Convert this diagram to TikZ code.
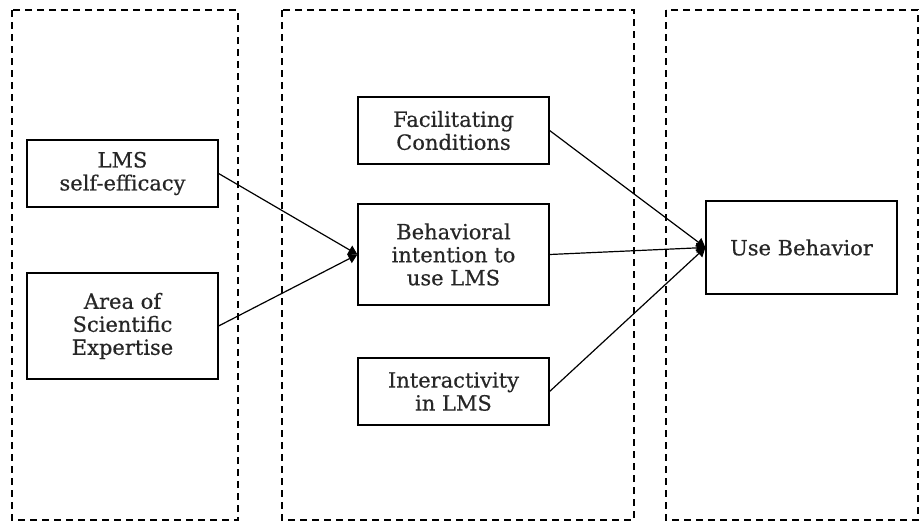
\documentclass[tikz,border=0pt]{standalone}
\usepackage{fontspec}
\setmainfont{DejaVu Serif}
\newfontfamily\boxfont[FakeBold=0.5]{DejaVu Serif}
\usetikzlibrary{arrows.meta}

\begin{document}
\begin{tikzpicture}[x=1pt,y=-1pt,
        construct/.style={draw,line width=1.2pt,minimum width=191pt,align=center,inner sep=2pt,
            font=\boxfont\fontsize{21}{23}\selectfont,text=black!85},
        group/.style={draw,line width=1.4pt,dash pattern=on 7pt off 5pt},
        link/.style={line width=1.2pt,-{Triangle[length=9pt,width=10pt]}}]
        \useasboundingbox (0,0) rectangle (920,530);

        % dashed groups
        \draw[group] (12,10) rectangle (238,520);
        \draw[group] (282,10) rectangle (634,520);
        \draw[group] (666,10) rectangle (918,520);

        % constructs
        \node[construct,minimum height=67pt] (efficacy) at (122.5,173.5) {LMS\\self-efficacy};
        \node[construct,minimum height=106pt] (area) at (122.5,326) {Area of\\Scientific\\Expertise};
        \node[construct,minimum height=67pt] (facilitating) at (453.5,130.5) {Facilitating\\Conditions};
        \node[construct,minimum height=101pt] (intention) at (453.5,254.5) {Behavioral\\intention to\\use LMS};
        \node[construct,minimum height=67pt] (interactivity) at (453.5,391.5) {Interactivity\\in LMS};
        \node[construct,minimum height=93pt] (use) at (801.5,247.5) {Use Behavior};

        % paths
        \draw[link] (efficacy.east) -- (intention.west);
        \draw[link] (area.east) -- (intention.west);
        \draw[link] (facilitating.east) -- (use.west);
        \draw[link] (intention.east) -- (use.west);
        \draw[link] (interactivity.east) -- (use.west);
\end{tikzpicture}
\end{document}
